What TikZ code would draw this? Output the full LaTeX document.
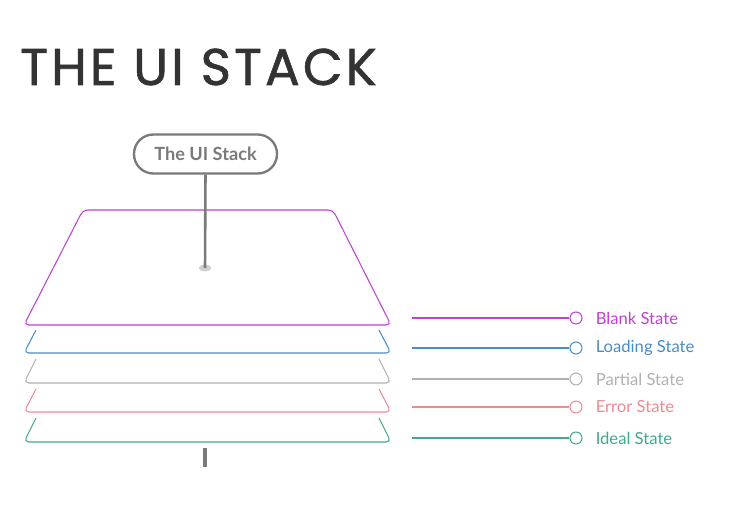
\documentclass[tikz,border=0pt]{standalone}
\usepackage{fontspec}
\setmainfont{Lato}
\newfontfamily\titlefont[LetterSpace=6,FakeBold=1.2]{Poppins}
\usetikzlibrary{positioning, shapes.geometric}
\definecolor{titlegray}{HTML}{333333}
\definecolor{stemgray}{HTML}{7A7A7A}
\definecolor{blankc}{HTML}{C040D0}
\definecolor{loadc}{HTML}{4A8BCB}
\definecolor{partc}{HTML}{B0B0B0}
\definecolor{errc}{HTML}{EE8A92}
\definecolor{idealc}{HTML}{3FA88E}

\begin{document}
\begin{tikzpicture}[
    x=0.03cm, y=-0.03cm,
    layer/.style={line width=0.9pt, rounded corners=4pt},
    stem/.style={line width=2.2pt, color=stemgray},
    pill/.style={rectangle, rounded corners=0.58cm, draw=stemgray, line width=2pt,
                 minimum width=4.29cm, minimum height=1.17cm, text=stemgray,
                 font=\bfseries\fontsize{15.5}{17}\selectfont},
    hubdot/.style={ellipse, fill=stemgray!35, minimum width=0.38cm,
                   minimum height=0.2cm, inner sep=0pt},
    dot/.style={circle, draw, fill=white, line width=0.9pt,
                minimum size=0.36cm, inner sep=0pt},
    tag/.style={font=\fontsize{14.2}{16}\selectfont, inner sep=0pt},
    link/.style={line width=0.9pt}
  ]
    \useasboundingbox (0,0) rectangle (739,515);

    \node[anchor=base west, inner sep=0pt, text=titlegray,
          font=\titlefont\fontsize{44}{48}\selectfont] (title) at (20,85) {THE UI STACK};

    \draw[layer, blankc] (83,210) -- (333,210) -- (391,325) -- (24,325) -- cycle;
    \draw[layer, loadc]  (36,330) -- (24,353) -- (391,353) -- (379,330);
    \draw[layer, partc]  (36,359) -- (24,383) -- (391,383) -- (379,359);
    \draw[layer, errc]   (36,389) -- (24,412) -- (391,412) -- (379,389);
    \draw[layer, idealc] (36,418) -- (24,442) -- (391,442) -- (379,418);

    \node[pill] (pill) at (205.5,154) {The UI Stack};
    \node[hubdot] (hub) at (205,268) {};
    \draw[stem] (pill.south) -- (hub.center);
    \coordinate (ticktop) at (205,448);
    \coordinate (tickbot) at (205,467);
    \draw[stem, line width=2.6pt] (ticktop) -- (tickbot);

    \coordinate (blankin) at (412,318);
    \node[dot, draw=blankc] (blankdot) at (576,318) {};
    \node[tag, text=blankc, right=0.39cm of blankdot] (blanklbl) {Blank State};
    \draw[link, blankc] (blankin) -- (blankdot);

    \coordinate (loadin) at (412,348);
    \node[dot, draw=loadc] (loaddot) at (576,348) {};
    \node[tag, text=loadc, right=0.39cm of loaddot] (loadlbl) {Loading State};
    \draw[link, loadc] (loadin) -- (loaddot);

    \coordinate (partin) at (412,379);
    \node[dot, draw=partc] (partdot) at (576,379) {};
    \node[tag, text=partc, right=0.39cm of partdot] (partlbl) {Partial State};
    \draw[link, partc] (partin) -- (partdot);

    \coordinate (errin) at (412,407);
    \node[dot, draw=errc] (errdot) at (576,407) {};
    \node[tag, text=errc, right=0.39cm of errdot] (errlbl) {Error State};
    \draw[link, errc] (errin) -- (errdot);

    \coordinate (idealin) at (412,438);
    \node[dot, draw=idealc] (idealdot) at (576,438) {};
    \node[tag, text=idealc, right=0.39cm of idealdot] (ideallbl) {Ideal State};
    \draw[link, idealc] (idealin) -- (idealdot);
  \end{tikzpicture}
\end{document}
